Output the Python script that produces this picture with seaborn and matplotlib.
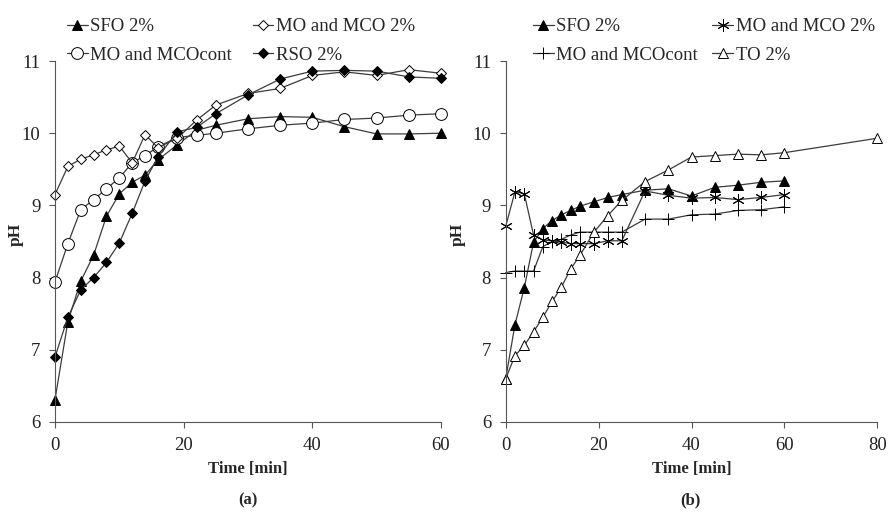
import numpy as np
import matplotlib
matplotlib.use("Agg")
import matplotlib.pyplot as plt
import seaborn as sns

# panel (a) data
time_a = [0, 2, 4, 6, 8, 10, 12, 14, 16, 19, 22, 25, 30, 35, 40, 45, 50, 55, 60]
sfo_a = [6.31, 7.39, 7.95, 8.31, 8.85, 9.16, 9.32, 9.42, 9.63, 9.84, 10.04, 10.11,
         10.20, 10.23, 10.22, 10.09, 9.99, 9.99, 10.00]
mco2_a = [9.15, 9.54, 9.64, 9.70, 9.77, 9.82, 9.59, 9.98, 9.80, 9.93, 10.18, 10.39,
          10.55, 10.62, 10.80, 10.85, 10.80, 10.88, 10.83]
mcocont_a = [7.94, 8.47, 8.94, 9.08, 9.23, 9.38, 9.59, 9.69, 9.81, 9.94, 9.97, 10.00,
             10.06, 10.11, 10.14, 10.19, 10.21, 10.25, 10.27]
rso_a = [6.90, 7.45, 7.83, 8.00, 8.21, 8.48, 8.89, 9.34, 9.67, 10.02, 10.08, 10.27,
         10.53, 10.75, 10.86, 10.87, 10.86, 10.78, 10.76]

# panel (b) data
time_b = [0, 2, 4, 6, 8, 10, 12, 14, 16, 19, 22, 25, 30, 35, 40, 45, 50, 55, 60]
sfo_b = [6.60, 7.35, 7.86, 8.49, 8.68, 8.79, 8.87, 8.93, 8.99, 9.05, 9.11, 9.15,
         9.21, 9.23, 9.13, 9.25, 9.28, 9.32, 9.34]
mco2_b = [8.71, 9.19, 9.16, 8.59, 8.52, 8.51, 8.49, 8.47, 8.47, 8.47, 8.51, 8.51,
          9.20, 9.14, 9.10, 9.11, 9.08, 9.11, 9.15]
mcocont_b = [8.07, 8.09, 8.09, 8.09, 8.43, 8.50, 8.53, 8.59, 8.63, 8.63, 8.63, 8.63,
             8.81, 8.81, 8.87, 8.88, 8.93, 8.94, 8.98]
time_to = [0, 2, 4, 6, 8, 10, 12, 14, 16, 19, 22, 25, 30, 35, 40, 45, 50, 55, 60, 80]
to_b = [6.60, 6.92, 7.06, 7.25, 7.45, 7.67, 7.87, 8.12, 8.31, 8.63, 8.86, 9.07,
        9.33, 9.49, 9.67, 9.69, 9.71, 9.70, 9.73, 9.93]

sns.set_style("ticks")
plt.rcParams["font.family"] = ["Liberation Serif", "DejaVu Serif"]
plt.rcParams["axes.edgecolor"] = "#555555"
plt.rcParams["xtick.color"] = "#555555"
plt.rcParams["ytick.color"] = "#555555"
plt.rcParams["xtick.labelcolor"] = "#222222"
plt.rcParams["ytick.labelcolor"] = "#222222"

LINE = "#3c3c3c"

fig = plt.figure(figsize=(8.89, 5.17), dpi=100)
ax_a = fig.add_axes([55 / 889, 1 - 422 / 517, 386 / 889, 361 / 517])
ax_b = fig.add_axes([505.7 / 889, 1 - 422 / 517, 371.6 / 889, 361 / 517])


def draw(ax, x, y, label, marker, face, size):
    sns.lineplot(x=x, y=y, ax=ax, label=label, color=LINE, lw=0.9,
                 marker=marker, markersize=size, markerfacecolor=face,
                 markeredgecolor="black", markeredgewidth=0.7)


draw(ax_a, time_a, sfo_a, "SFO 2%", "^", "black", 7)
draw(ax_a, time_a, mcocont_a, "MO and MCOcont", "o", "white", 8.5)
draw(ax_a, time_a, mco2_a, "MO and MCO 2%", "D", "white", 5)
draw(ax_a, time_a, rso_a, "RSO 2%", "D", "black", 5.5)

draw(ax_b, time_b, sfo_b, "SFO 2%", "^", "black", 7)
draw(ax_b, time_b, mcocont_b, "MO and MCOcont", "+", "none", 9)
draw(ax_b, time_b, mco2_b, "MO and MCO 2%", (6, 2, 0), "none", 9)
draw(ax_b, time_to, to_b, "TO 2%", "^", "white", 7)

for ax, xmax, xticks, ylab_x in [(ax_a, 60, [0, 20, 40, 60], -0.08),
                                 (ax_b, 80, [0, 20, 40, 60, 80], -0.107)]:
    ax.set_xlim(0, xmax)
    ax.set_ylim(6, 11)
    ax.set_xticks(xticks)
    ax.set_yticks([6, 7, 8, 9, 10, 11])
    ax.tick_params(labelsize=13.5, length=4.5, width=0.8, pad=6)
    ax.set_xlabel("Time [min]", fontsize=12, fontweight="bold", labelpad=5)
    ax.set_ylabel("pH", fontsize=12.5, fontweight="bold")
    ax.yaxis.set_label_coords(ylab_x, 0.52)
    for s in ["top", "right"]:
        ax.spines[s].set_visible(False)
    for s in ["left", "bottom"]:
        ax.spines[s].set_linewidth(0.8)
    for line in ax.lines:
        line.set_clip_on(False)

fig.text(248 / 889, 1 - 500 / 517, "(a)", ha="center", va="center",
         fontsize=12, fontweight="bold")
fig.text(690 / 889, 1 - 500 / 517, "(b)", ha="center", va="center",
         fontsize=12, fontweight="bold")

for ax, x0, cs in [(ax_a, 67, 1.1), (ax_b, 533, 0.75)]:
    handles, labels = ax.get_legend_handles_labels()
    ax.legend(handles, labels, ncol=2, frameon=False, fontsize=13.5,
              loc="upper left", bbox_to_anchor=(x0 / 889, 1 - 18 / 517),
              bbox_transform=fig.transFigure, handlelength=1.1,
              handletextpad=0.15, columnspacing=cs, labelspacing=0.6,
              borderaxespad=0, borderpad=0)

fig.savefig("out.png", dpi=100)
